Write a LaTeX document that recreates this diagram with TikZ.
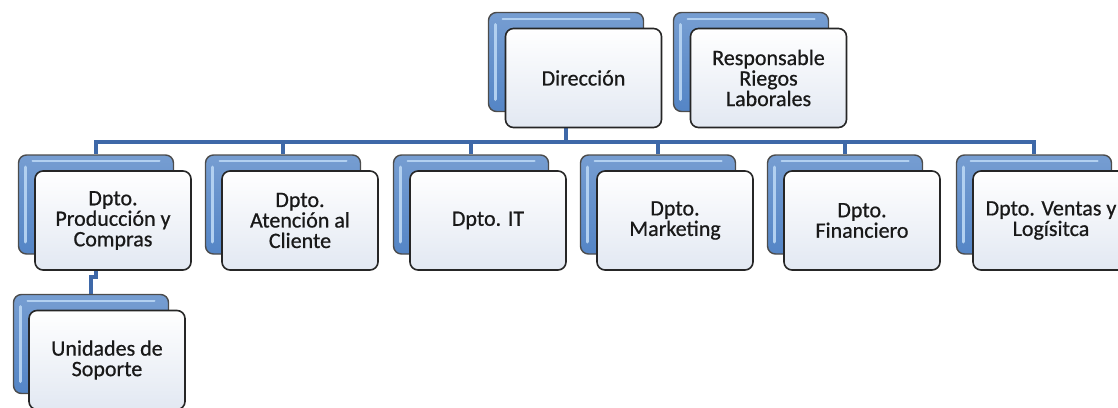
\documentclass[tikz,border=0pt]{standalone}
\usepackage{fontspec}
\setmainfont{Carlito}
\newfontfamily\boxfont{Carlito}[FakeBold=0.7]
\usetikzlibrary{backgrounds}

\definecolor{orgblue}{RGB}{84,133,198}
\definecolor{glowblue}{RGB}{178,208,240}
\definecolor{linkblue}{RGB}{62,104,168}
\definecolor{boxgray}{RGB}{226,232,242}

\begin{document}
\begin{tikzpicture}[x = 1pt, y = -1pt,
  backbox/.style = {draw = black!70, line width = 1.4pt, rounded corners = 8pt,
    top color = orgblue!80!white, bottom color = orgblue,
    minimum width = 155pt, minimum height = 99pt,
    path picture = {\draw[glowblue, line width = 3pt, line cap = round]
      ([xshift = 7pt, yshift = -12pt]path picture bounding box.north west)
      -- ([xshift = 7pt, yshift = 12pt]path picture bounding box.south west);
      \draw[glowblue, line width = 2pt, line cap = round]
      ([xshift = 14pt, yshift = -6pt]path picture bounding box.north west)
      -- ([xshift = -14pt, yshift = -6pt]path picture bounding box.north east);}},
  frontbox/.style = {draw = black!85, line width = 1.6pt, rounded corners = 8pt,
    top color = white, bottom color = boxgray, minimum width = 156pt,
    minimum height = 99pt, align = center, text = black!90,
    font = \boxfont\fontsize{22}{20.5}\selectfont},
  conn/.style = {draw = linkblue, line width = 3.6pt}]
\useasboundingbox (0, 0) rectangle (1118, 407);
% top row
\node (dirB) [backbox] at (566, 62) {};
\node (dir) [frontbox] at (583.5, 78) {Dirección};
\node (respB) [backbox] at (751, 62) {};
\node (resp) [frontbox] at (768.5, 78) {Responsable\\Riegos\\Laborales};
% departments
\node (prodB) [backbox] at (96, 204.5) {};
\node (prod) [frontbox] at (113, 220.5) {Dpto.\\Producción y\\Compras};
\node (atenB) [backbox] at (283, 204.5) {};
\node (aten) [frontbox] at (300, 220.5) {Dpto.\\Atención al\\Cliente};
\node (itB) [backbox] at (471, 204.5) {};
\node (it) [frontbox] at (488, 220.5) {Dpto. IT};
\node (markB) [backbox] at (658, 204.5) {};
\node (mark) [frontbox] at (675, 220.5) {Dpto.\\Marketing};
\node (finB) [backbox] at (845, 204.5) {};
\node (fin) [frontbox] at (862, 220.5) {Dpto.\\Financiero};
\node (ventB) [backbox] at (1034, 204.5) {};
\node (vent) [frontbox] at (1051, 220.5) {Dpto. Ventas y\\Logísitca};
% under Produccion
\node (unidB) [backbox] at (91, 344) {};
\node (unid) [frontbox] at (107, 360) {Unidades de\\Soporte};
\coordinate (bus) at (566, 142);
\begin{scope}[on background layer]
\draw[conn] (dirB.south) -- (bus) -| (prodB.north);
\draw[conn] (dirB.south) -- (bus) -| (atenB.north);
\draw[conn] (dirB.south) -- (bus) -| (itB.north);
\draw[conn] (dirB.south) -- (bus) -| (markB.north);
\draw[conn] (dirB.south) -- (bus) -| (finB.north);
\draw[conn] (dirB.south) -- (bus) -| (ventB.north);
\draw[conn] (prodB.south) -- ++(0, 22) -| (unidB.north);
\end{scope}
\end{tikzpicture}
\end{document}
